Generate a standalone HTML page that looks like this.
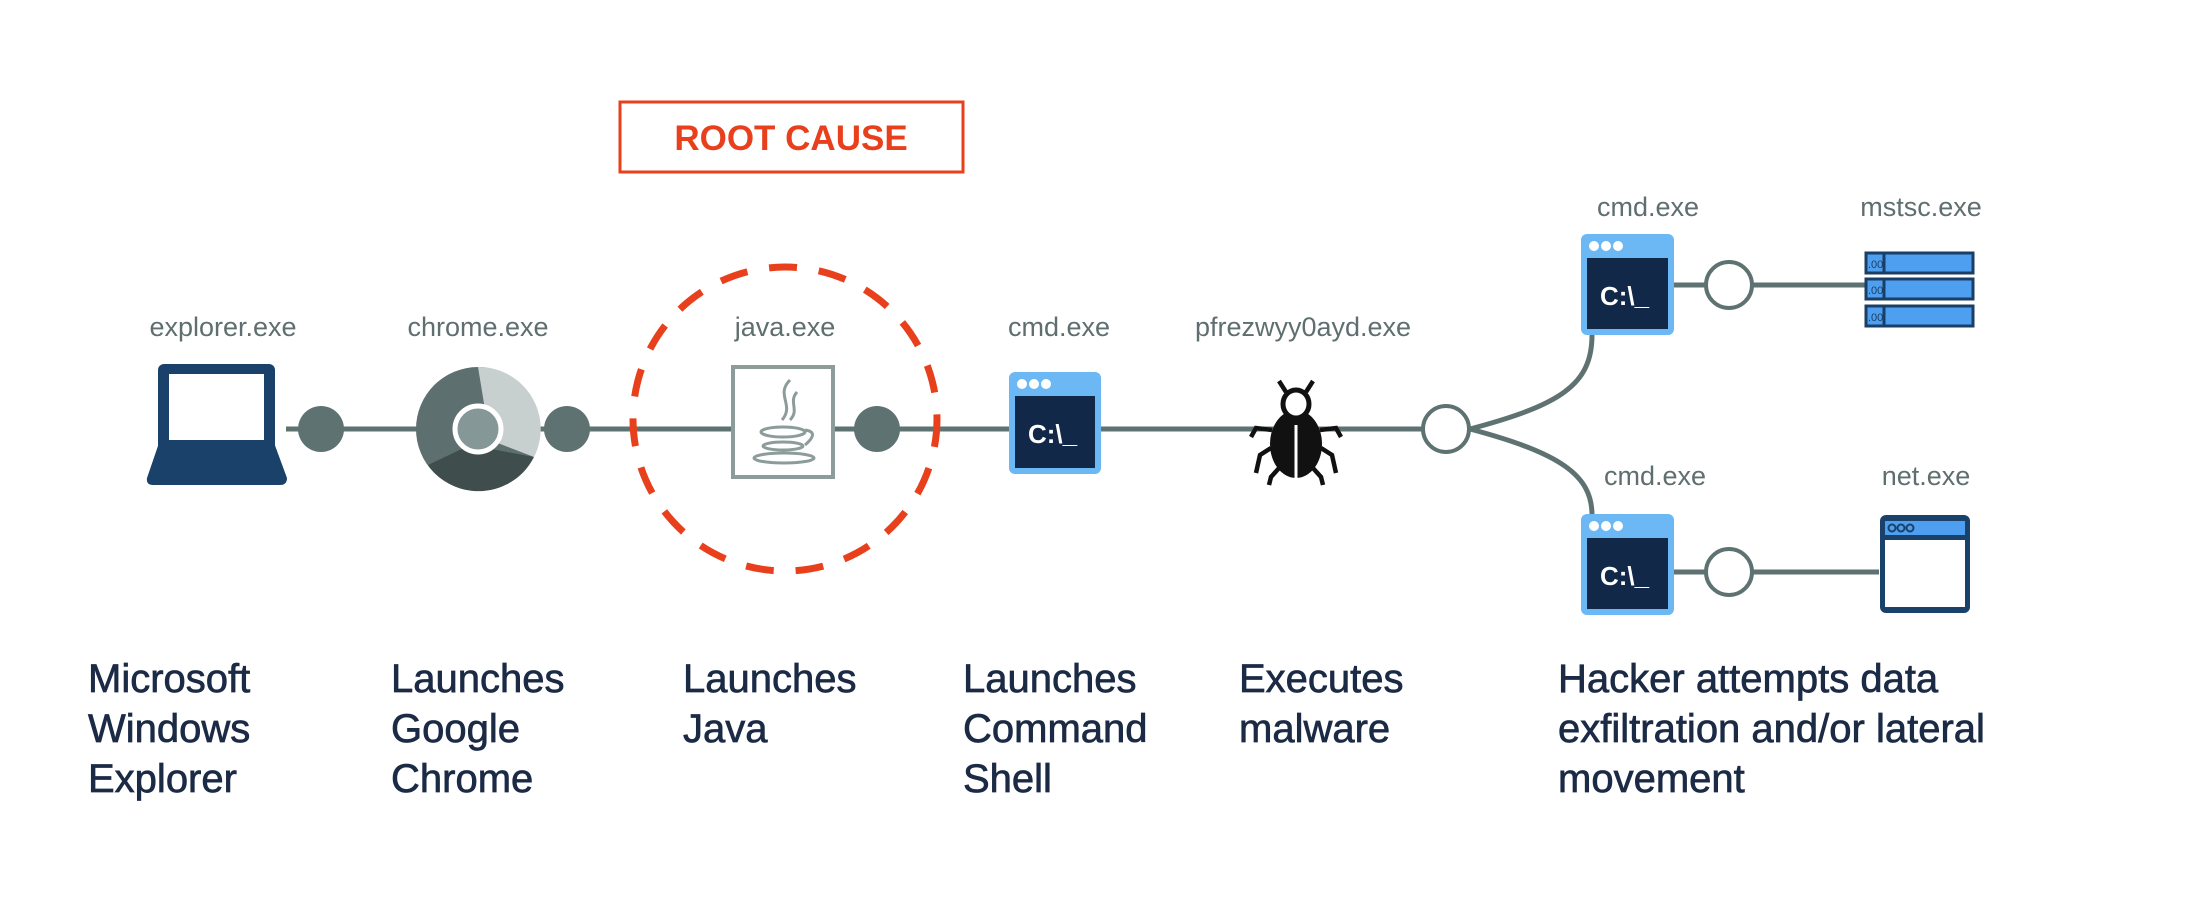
<!DOCTYPE html>
<html><head><meta charset="utf-8"><style>
html,body{margin:0;padding:0;background:#fff;}
svg{display:block}
.lbl{font-family:"Liberation Sans",sans-serif;font-size:27px;fill:#5f6e6e;text-anchor:middle}
.big{font-family:"Liberation Sans",sans-serif;font-size:40px;fill:#1b2a45;stroke:#1b2a45;stroke-width:0.7px}
.term{font-family:"Liberation Sans",sans-serif;font-weight:bold;font-size:26px;fill:#fff}
</style></head><body>
<svg width="2191" height="900" viewBox="0 0 2191 900" xmlns="http://www.w3.org/2000/svg">
<line x1="286" y1="429" x2="1446" y2="429" stroke="#5f7272" stroke-width="5"/>
<path d="M1470 429 C1560 405 1592 385 1592 335" fill="none" stroke="#5f7272" stroke-width="5"/>
<path d="M1470 429 C1560 453 1592 475 1592 515" fill="none" stroke="#5f7272" stroke-width="5"/>
<line x1="1674" y1="285" x2="1865" y2="285" stroke="#5f7272" stroke-width="5"/>
<line x1="1674" y1="572" x2="1879" y2="572" stroke="#5f7272" stroke-width="5"/>

<rect x="620" y="102" width="343" height="70" fill="none" stroke="#e8401c" stroke-width="3"/>
<text x="791" y="150" text-anchor="middle" font-family="Liberation Sans,sans-serif" font-weight="bold" font-size="35" fill="#e8401c">ROOT CAUSE</text>
<circle cx="785" cy="419" r="152" fill="none" stroke="#e8401c" stroke-width="7" stroke-dasharray="28 22"/>

<text class="lbl" x="223" y="336">explorer.exe</text>
<text class="lbl" x="478" y="336">chrome.exe</text>
<text class="lbl" x="785" y="336">java.exe</text>
<text class="lbl" x="1059" y="336">cmd.exe</text>
<text class="lbl" x="1303" y="336">pfrezwyy0ayd.exe</text>
<text class="lbl" x="1648" y="216">cmd.exe</text>
<text class="lbl" x="1921" y="216">mstsc.exe</text>
<text class="lbl" x="1655" y="485">cmd.exe</text>
<text class="lbl" x="1926" y="485">net.exe</text>

<rect x="158" y="364" width="117" height="90" rx="6" fill="#1a4169"/>
<rect x="169" y="374" width="95" height="70" fill="#fff"/>
<path d="M160 440 L273 440 L287 478 Q287 485 280 485 L153 485 Q146 485 147 478 Z" fill="#1a4169"/>

<circle cx="321" cy="429" r="23" fill="#5f7272"/>
<circle cx="567" cy="429" r="23" fill="#5f7272"/>
<circle cx="877" cy="429" r="23" fill="#5f7272"/>

<circle cx="478" cy="429" r="62" fill="#5d6f6f"/>
<path d="M478 367 A62 62 0 0 1 534 457 L490 440 Z" fill="#c7d0ce"/>
<path d="M534 457 A62 62 0 0 1 428 465 L470 445 Z" fill="#3f4d4d"/>
<circle cx="478" cy="429" r="23" fill="#859797" stroke="#fff" stroke-width="5"/>

<rect x="733" y="367" width="100" height="110" fill="#fff" stroke="#8c9c9a" stroke-width="4"/>
<path d="M790 380 C775 395 795 405 782 420 M797 392 C788 402 800 410 790 420" fill="none" stroke="#8c9c9a" stroke-width="3"/>
<ellipse cx="783" cy="432" rx="22" ry="5" fill="none" stroke="#8c9c9a" stroke-width="3"/>
<path d="M805 430 Q820 432 805 445" fill="none" stroke="#8c9c9a" stroke-width="3"/>
<ellipse cx="783" cy="446" rx="20" ry="4" fill="none" stroke="#8c9c9a" stroke-width="3"/>
<ellipse cx="784" cy="458" rx="30" ry="5" fill="none" stroke="#8c9c9a" stroke-width="3"/>

<g>
<rect x="1009" y="372" width="92" height="102" rx="6" fill="#6cb8f4"/>
<circle cx="1022" cy="384" r="5" fill="#fff"/><circle cx="1034" cy="384" r="5" fill="#fff"/><circle cx="1046" cy="384" r="5" fill="#fff"/>
<rect x="1015" y="396" width="80" height="72" fill="#112848"/>
<text class="term" x="1028" y="443">C:\_</text>
</g>
<g>
<rect x="1581" y="234" width="93" height="101" rx="6" fill="#6cb8f4"/>
<circle cx="1594" cy="246" r="5" fill="#fff"/><circle cx="1606" cy="246" r="5" fill="#fff"/><circle cx="1618" cy="246" r="5" fill="#fff"/>
<rect x="1587" y="258" width="81" height="71" fill="#112848"/>
<text class="term" x="1600" y="305">C:\_</text>
</g>
<g>
<rect x="1581" y="514" width="93" height="101" rx="6" fill="#6cb8f4"/>
<circle cx="1594" cy="526" r="5" fill="#fff"/><circle cx="1606" cy="526" r="5" fill="#fff"/><circle cx="1618" cy="526" r="5" fill="#fff"/>
<rect x="1587" y="538" width="81" height="71" fill="#112848"/>
<text class="term" x="1600" y="585">C:\_</text>
</g>

<g fill="#111" stroke="#111">
<ellipse cx="1296" cy="444" rx="26" ry="34" stroke="none"/>
<ellipse cx="1296" cy="404" rx="13" ry="14" fill="#fff" stroke-width="5"/>
<path d="M1286 392 L1279 381 M1306 392 L1313 381 M1272 430 L1256 428 L1251 437 M1320 430 L1336 428 L1341 437 M1271 448 L1260 455 L1256 473 M1321 448 L1332 455 L1336 473 M1280 467 L1271 477 L1269 485 M1312 467 L1321 477 L1323 485" fill="none" stroke-width="4.5"/>
<line x1="1296" y1="425" x2="1296" y2="478" stroke="#fff" stroke-width="3"/>
</g>

<circle cx="1446" cy="429" r="23" fill="#fff" stroke="#5f7272" stroke-width="4"/>
<circle cx="1729" cy="285" r="23" fill="#fff" stroke="#5f7272" stroke-width="4"/>
<circle cx="1729" cy="572" r="23" fill="#fff" stroke="#5f7272" stroke-width="4"/>

<g fill="#4f9ff0" stroke="#1a3f66" stroke-width="3">
<rect x="1866" y="253" width="107" height="20"/>
<rect x="1866" y="279" width="107" height="20"/>
<rect x="1866" y="306" width="107" height="20"/>
<line x1="1884" y1="253" x2="1884" y2="273"/><line x1="1884" y1="279" x2="1884" y2="299"/><line x1="1884" y1="306" x2="1884" y2="326"/>
</g>
<g font-family="Liberation Sans,sans-serif" font-size="11" fill="#1a3f66"><text x="1868" y="268">.00</text><text x="1868" y="294">.00</text><text x="1868" y="321">.00</text></g>

<rect x="1880" y="515" width="90" height="98" rx="6" fill="#1a4169"/>
<rect x="1885" y="521" width="80" height="14" fill="#4f9ff0"/>
<circle cx="1892" cy="528" r="3.5" fill="none" stroke="#1a4169" stroke-width="2"/><circle cx="1901" cy="528" r="3.5" fill="none" stroke="#1a4169" stroke-width="2"/><circle cx="1910" cy="528" r="3.5" fill="none" stroke="#1a4169" stroke-width="2"/>
<rect x="1885" y="540" width="80" height="67" fill="#fff"/>

<text class="big"><tspan x="88" y="692">Microsoft</tspan><tspan x="88" y="742">Windows</tspan><tspan x="88" y="792">Explorer</tspan></text>
<text class="big"><tspan x="391" y="692">Launches</tspan><tspan x="391" y="742">Google</tspan><tspan x="391" y="792">Chrome</tspan></text>
<text class="big"><tspan x="683" y="692">Launches</tspan><tspan x="683" y="742">Java</tspan></text>
<text class="big"><tspan x="963" y="692">Launches</tspan><tspan x="963" y="742">Command</tspan><tspan x="963" y="792">Shell</tspan></text>
<text class="big"><tspan x="1239" y="692">Executes</tspan><tspan x="1239" y="742">malware</tspan></text>
<text class="big"><tspan x="1558" y="692">Hacker attempts data</tspan><tspan x="1558" y="742">exfiltration and/or lateral</tspan><tspan x="1558" y="792">movement</tspan></text>
</svg>
</body></html>
